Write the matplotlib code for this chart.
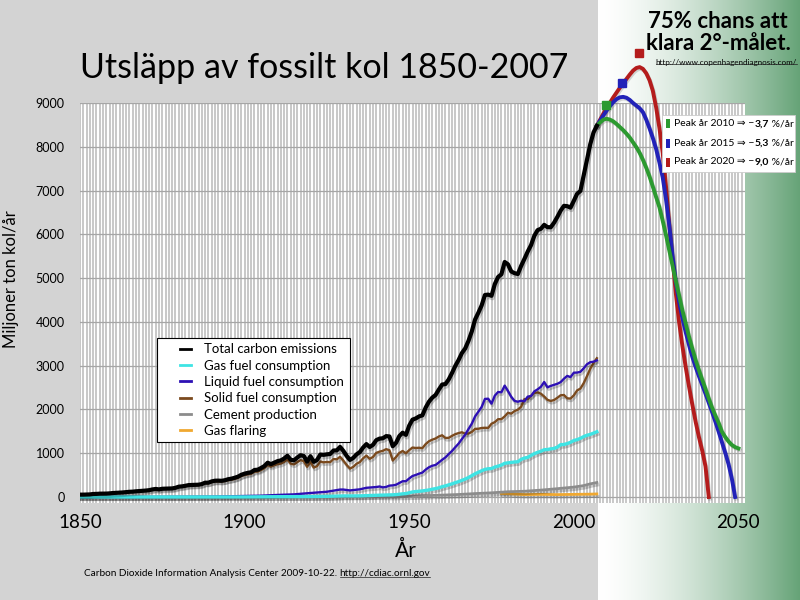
import matplotlib.pyplot as plt
import matplotlib.patheffects as pe
from matplotlib.patches import Rectangle
from matplotlib.lines import Line2D
from matplotlib.text import Annotation
from matplotlib.transforms import IdentityTransform
from matplotlib.legend_handler import HandlerLine2D
import numpy as np

plt.rcParams['font.family'] = ['Lato', 'DejaVu Sans']

# --- data (million tonnes carbon per year) ---
years = list(range(1850, 2008))
total = [54, 54, 57, 59, 69, 71, 76, 77, 78, 83,
         91, 95, 97, 104, 112, 119, 122, 130, 135, 142,
         147, 156, 173, 184, 174, 188, 191, 194, 196, 210,
         236, 243, 256, 272, 275, 277, 281, 295, 327, 327,
         356, 372, 374, 370, 383, 406, 419, 440, 465, 507,
         534, 552, 566, 617, 624, 663, 707, 784, 750, 785,
         819, 836, 879, 943, 850, 838, 901, 955, 936, 806,
         932, 803, 845, 970, 963, 975, 983, 1062, 1065, 1145,
         1053, 940, 847, 893, 973, 1027, 1130, 1209, 1142, 1192,
         1299, 1334, 1342, 1391, 1383, 1160, 1238, 1392, 1469, 1419,
         1630, 1767, 1795, 1841, 1865, 2043, 2177, 2270, 2330, 2454,
         2569, 2580, 2686, 2833, 2995, 3130, 3288, 3393, 3566, 3780,
         4053, 4208, 4376, 4614, 4623, 4596, 4864, 5026, 5087, 5369,
         5315, 5152, 5113, 5094, 5280, 5439, 5607, 5752, 5965, 6097,
         6127, 6217, 6164, 6162, 6266, 6398, 6542, 6651, 6643, 6610,
         6765, 6927, 6990, 7350, 7720, 8060, 8330, 8480]

solid = [54, 54, 57, 59, 69, 71, 76, 77, 78, 83,
         91, 94, 96, 103, 111, 118, 121, 129, 134, 140,
         145, 154, 170, 181, 171, 185, 187, 190, 192, 205,
         230, 237, 249, 264, 266, 268, 271, 284, 315, 314,
         341, 355, 356, 351, 363, 383, 394, 413, 437, 477,
         501, 517, 528, 577, 580, 616, 657, 729, 692, 724,
         750, 763, 800, 858, 760, 744, 797, 842, 819, 690,
         804, 672, 703, 811, 792, 800, 795, 868, 860, 918,
         832, 732, 649, 687, 759, 797, 883, 945, 872, 914,
         1008, 1036, 1055, 1093, 1068, 833, 913, 1006, 1051, 999,
         1070, 1130, 1119, 1125, 1116, 1208, 1273, 1309, 1336, 1382,
         1410, 1349, 1351, 1396, 1435, 1460, 1478, 1448, 1448, 1486,
         1556, 1559, 1576, 1581, 1579, 1673, 1710, 1777, 1778, 1841,
         1924, 1904, 1963, 1994, 2063, 2237, 2234, 2309, 2378, 2389,
         2360, 2296, 2220, 2194, 2215, 2266, 2323, 2330, 2254, 2248,
         2321, 2434, 2476, 2600, 2760, 2930, 3060, 3170]

liquid_years = [1850, 1870, 1880, 1890, 1900, 1905, 1910, 1913, 1915, 1920, 1925,
                1929, 1930, 1932, 1935, 1937, 1940, 1941, 1942, 1943, 1944, 1945,
                1946, 1947, 1948, 1949] + list(range(1950, 2008))
liquid = [0, 1, 3, 8, 23, 30, 47, 55, 60, 91, 120,
          170, 170, 150, 175, 210, 228, 240, 220, 230, 260, 265,
          280, 320, 360, 360,
          423, 479, 504, 533, 557, 625, 679, 714, 731, 789,
          849, 904, 980, 1052, 1137, 1219, 1323, 1423, 1551, 1673,
          1839, 1947, 2057, 2240, 2245, 2132, 2314, 2398, 2392, 2544,
          2422, 2289, 2196, 2176, 2199, 2186, 2293, 2306, 2412, 2459,
          2517, 2627, 2506, 2537, 2562, 2586, 2624, 2701, 2766, 2739,
          2839, 2842, 2859, 2939, 3032, 3079, 3091, 3120]

gas_years = [1850, 1885, 1900, 1910, 1920, 1925, 1930, 1935, 1940, 1945] + list(range(1946, 2008))
gas = [0, 1, 2, 7, 10, 15, 25, 26, 39, 50,
       55, 63, 72, 78,
       97, 115, 124, 131, 138, 150, 161, 178, 192, 210,
       235, 254, 277, 300, 328, 351, 380, 410, 445, 487,
       530, 565, 600, 630, 645, 650, 685, 705, 730, 770,
       780, 790, 800, 805, 860, 890, 905, 950, 990, 1020,
       1045, 1080, 1085, 1100, 1110, 1140, 1195, 1200, 1220, 1250,
       1290, 1310, 1340, 1380, 1410, 1430, 1460, 1490]

cement_years = [1850, 1927, 1930, 1935, 1940, 1945, 1950, 1955, 1960, 1965, 1970,
                1975, 1980, 1985, 1990, 1995, 2000, 2003, 2005, 2007]
cement = [0, 0, 10, 13, 18, 12, 18, 30, 43, 57, 78,
          95, 120, 131, 157, 190, 226, 260, 300, 330]

flaring_years = [1978, 1980, 1985, 1990, 1995, 2000, 2005, 2007]
flaring = [80, 75, 55, 60, 55, 60, 65, 70]

# scenarios after 2007
peak2010_years = list(range(2007, 2051))
peak2010 = [8480, 8560, 8620, 8640, 8620, 8580, 8520, 8450, 8380, 8300,
            8210, 8100, 7990, 7860, 7700, 7520, 7320, 7090, 6850, 6620,
            6310, 5980, 5630, 5280, 4930, 4600, 4260, 3960, 3660, 3390,
            3130, 2900, 2680, 2470, 2250, 2040, 1860, 1690, 1490, 1370,
            1270, 1190, 1140, 1110]
peak2015_years = list(range(2007, 2050))
peak2015 = [8480, 8600, 8720, 8830, 8930, 9020, 9090, 9130, 9140, 9120,
            9070, 9000, 8940, 8880, 8790, 8620, 8420, 8200, 7950, 7640,
            7300, 6800, 6200, 5500, 4900, 4450, 4080, 3760, 3470, 3200,
            2970, 2760, 2560, 2360, 2150, 1940, 1720, 1490, 1250, 1010,
            750, 420, 0]
peak2020_years = list(range(2007, 2042))
peak2020 = [8480, 8620, 8760, 8890, 9010, 9130, 9240, 9350, 9450, 9550,
            9650, 9740, 9800, 9820, 9780, 9680, 9520, 9280, 8900, 8430,
            7860, 7100, 6230, 5440, 4640, 3980, 3440, 2960, 2520, 2110,
            1720, 1370, 1060, 700, 0]

scenario_labels = ['Peak år 2010 ⇒ \u2212', 'Peak år 2015 ⇒ \u2212', 'Peak år 2020 ⇒ \u2212']
scenario_rates = ['3,7', '5,3', '9,0']


class ShortHandler(HandlerLine2D):
    # only the right part of the handle is drawn: short dashes as in the original
    def create_artists(self, legend, orig_handle, xdescent, ydescent, width, height, fontsize, trans):
        arts = super().create_artists(legend, orig_handle, xdescent, ydescent, width, height, fontsize, trans)
        for a in arts:
            xd = np.asarray(a.get_xdata(), dtype=float)
            if len(xd) >= 2:
                a.set_xdata(np.linspace(xd[0] + 0.62 * (xd[-1] - xd[0]), xd[-1], len(xd)))
            a.set_path_effects([])
            a.set_linewidth(2)
        return arts


# --- figure ---
fig = plt.figure(figsize=(8, 6), dpi=100, facecolor='#d3d3d3')

# white -> green panel on the right
bg = fig.add_axes([598 / 800, 0, 202 / 800, 1])
bg.set_axis_off()
g = np.linspace(0, 1, 256) ** 1.5
white = np.array([1.0, 1.0, 1.0])
green = np.array([0.40, 0.64, 0.47])
grad = white[None, :] * (1 - g[:, None]) + green[None, :] * g[:, None]
bg.imshow(grad[None, :, :], aspect='auto', extent=[0, 1, 0, 1])
bg.set_zorder(0)

ax = fig.add_axes([0.1, 1 - 503 / 600, 665 / 800, 400 / 600])
ax.set_zorder(1)
ax.set_facecolor('white')
for s in ax.spines.values():
    s.set_visible(False)

ax.set_xlim(1850, 2052)
ax.set_ylim(-137, 9000)
ax.set_xticks(range(1850, 2051, 50))
ax.set_xticks(range(1850, 2052), minor=True)
ax.set_yticks(range(0, 9001, 1000))
ax.grid(which='minor', axis='x', color='#c4c4c4', lw=1.3)
ax.grid(which='major', axis='x', color='#c4c4c4', lw=1.3)
ax.grid(which='major', axis='y', color='#a6a6a6', lw=0.9)
ax.set_axisbelow(True)
ax.tick_params(axis='both', which='both', length=0)
ax.tick_params(axis='x', labelsize=13.5, pad=8)
ax.tick_params(axis='y', labelsize=9, pad=11)
ax.set_xlabel('År', fontsize=15)
ax.xaxis.set_label_coords((406 - 80) / 665, (503 - 541) / 400)
ax.set_ylabel('Miljoner ton kol/år', fontsize=12)
ax.yaxis.set_label_coords((19 - 80) / 665, (503 - 279) / 400)

shadow = [pe.SimpleLineShadow(offset=(0.8, -1.8), shadow_color='k', alpha=0.2), pe.Normal()]

ax.plot(flaring_years, flaring, color='#f0a830', lw=2, path_effects=shadow, label='Gas flaring', zorder=3)
ax.plot(cement_years, cement, color='#8c8c8c', lw=2, path_effects=shadow, label='Cement production', zorder=3)
ax.plot(years, solid, color='#7b4a1e', lw=1.7, path_effects=shadow, label='Solid fuel consumption', zorder=4)
ax.plot(liquid_years, liquid, color='#2d10b4', lw=1.7, path_effects=shadow, label='Liquid fuel consumption', zorder=4)
ax.plot(gas_years, gas, color='#3ee4e4', lw=2.4, path_effects=shadow, label='Gas fuel consumption', zorder=4)
ax.plot(years, total, color='black', lw=3, path_effects=shadow, label='Total carbon emissions', zorder=6)

scen = [(peak2010_years, peak2010, '#2c9a30'),
        (peak2015_years, peak2015, '#2222b8'),
        (peak2020_years, peak2020, '#b41c1c')]
for yrs, vals, col in scen[::-1]:
    ax.plot(yrs, vals, color=col, lw=2.8, clip_on=False, zorder=5,
            path_effects=[pe.SimpleLineShadow(offset=(0.8, -1.2), shadow_color='k', alpha=0.15), pe.Normal()])
    i = int(np.argmax(vals))
    ax.plot([yrs[i] - 0.3], [vals[i] + 320], marker='s', ms=5.5, color=col, clip_on=False, zorder=7)

# legend with the original order
h, l = ax.get_legend_handles_labels()
order = [5, 4, 3, 2, 1, 0]
leg = ax.legend([h[i] for i in order], [l[i] for i in order],
                loc='upper left', bbox_to_anchor=(157 / 800, 1 - 338 / 600),
                bbox_transform=fig.transFigure, borderaxespad=0, fontsize=9.5,
                handlelength=2.2, handletextpad=1.0, borderpad=0.4, labelspacing=0.33,
                handler_map={Line2D: ShortHandler()},
                fancybox=False, edgecolor='black', framealpha=1)
leg.get_frame().set_linewidth(0.8)

# title and notes
fig.text(0.1, 1 - 78 / 600, 'Utsläpp av fossilt kol 1850-2007', fontsize=24.5, va='baseline', ha='left')
fig.text(718 / 800, 1 - 21 / 600, '75% chans att', fontsize=16, fontweight='bold', ha='center', va='center')
fig.text(718 / 800, 1 - 43 / 600, 'klara 2°-målet.', fontsize=16, fontweight='bold', ha='center', va='center')
url1 = fig.text(797 / 800, 1 - 62 / 600, 'http://www.copenhagendiagnosis.com/', fontsize=5.8, ha='right', va='center')

src = fig.text(84 / 800, 1 - 576 / 600, 'Carbon Dioxide Information Analysis Center 2009-10-22. ',
               fontsize=7.2, ha='left', va='baseline')
url2 = Annotation('http://cdiac.ornl.gov', xy=(1, 0), xycoords=src, va='bottom', ha='left', fontsize=7.2)
fig.add_artist(url2)

# scenario box
fig.add_artist(Rectangle((662 / 800, 1 - 172 / 600), 133 / 800, 57 / 600, transform=fig.transFigure,
                         facecolor='white', edgecolor='#cccccc', lw=0.6, zorder=5))
row_y = [124, 143, 162]
for (yrs, vals, col), lab, rate, ry in zip(scen, scenario_labels, scenario_rates, row_y):
    fig.add_artist(Rectangle((666 / 800, 1 - (ry + 4.5) / 600), 4 / 800, 9 / 600, transform=fig.transFigure,
                             facecolor=col, edgecolor='none', zorder=6))
    t1 = fig.text(674 / 800, 1 - ry / 600, lab, fontsize=7.5, va='center', ha='left', zorder=6)
    t2 = Annotation(rate, xy=(1, 0), xycoords=t1, va='bottom', ha='left', fontsize=7.5,
                    fontweight='bold', zorder=6)
    fig.add_artist(t2)
    t3 = Annotation(' %/år', xy=(1, 0), xycoords=t2, va='bottom', ha='left', fontsize=7.5, zorder=6)
    fig.add_artist(t3)

# underline the two links
fig.canvas.draw()
for t in (url1, url2):
    bb = t.get_window_extent()
    fig.add_artist(Line2D([bb.x0, bb.x1], [bb.y0 + 1.5, bb.y0 + 1.5], transform=IdentityTransform(),
                          color='#222222', lw=0.5, zorder=6))

fig.savefig('out.png', dpi=100, facecolor=fig.get_facecolor())
